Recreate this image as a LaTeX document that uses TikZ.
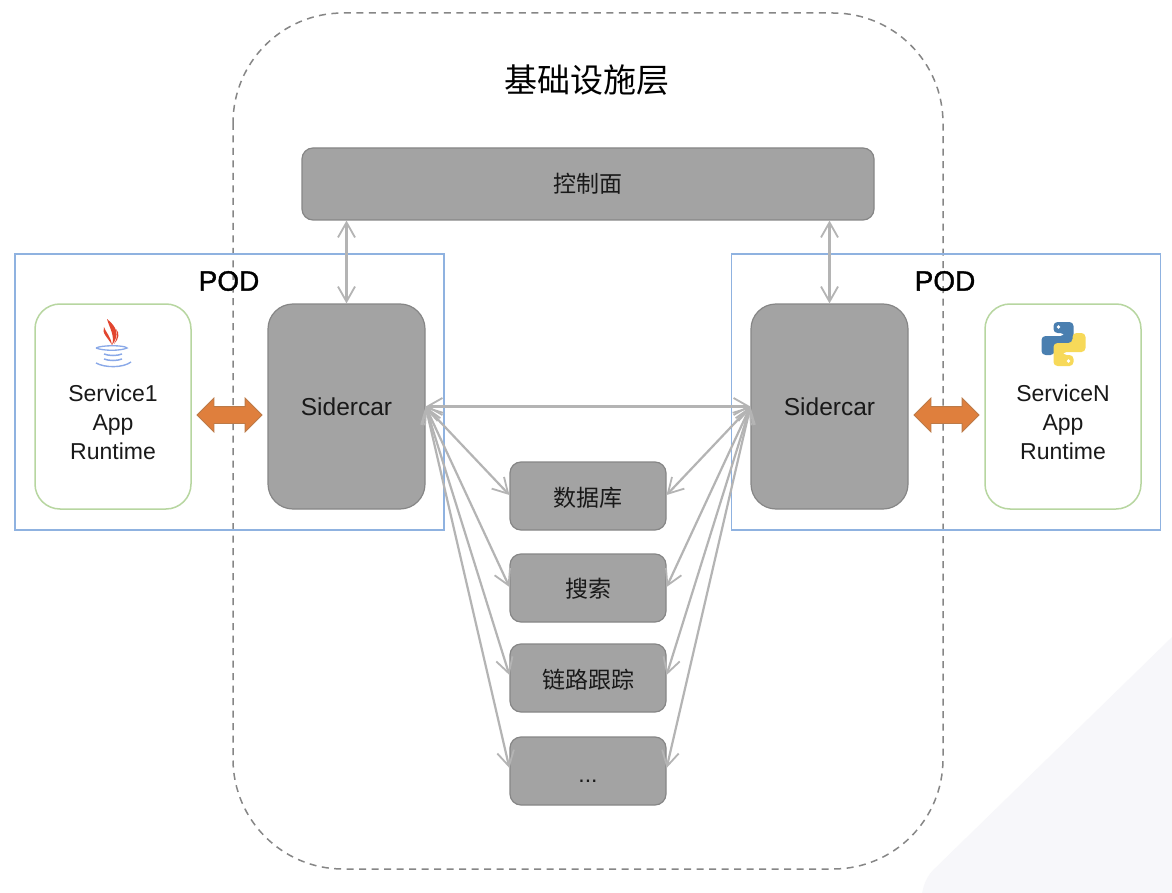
\documentclass[tikz,border=0pt]{standalone}
\usepackage{fontspec}
\setmainfont{Liberation Sans}
\newfontfamily\cjk{Noto Sans CJK SC}
\newfontfamily\podfont[FakeBold=1.2]{Liberation Sans}
\usetikzlibrary{arrows.meta,shapes.arrows}
\definecolor{boxgray}{HTML}{A3A3A3}
\definecolor{boxline}{HTML}{868686}
\definecolor{podblue}{HTML}{8FB2E0}
\definecolor{appgreen}{HTML}{B7D6A0}
\definecolor{linkgray}{HTML}{B4B4B4}
\definecolor{syncorange}{HTML}{DF7F3D}
\definecolor{syncline}{HTML}{BC7A48}
\definecolor{cornergray}{HTML}{F7F7FA}
\definecolor{javared}{HTML}{E2452F}
\definecolor{javablue}{HTML}{8AA9E8}
\definecolor{pyblue}{HTML}{4A7FB0}
\definecolor{pyyellow}{HTML}{F7D959}
\newcommand{\dropped}[2]{\raisebox{-#1}[\height][\depth]{#2}}
\tikzset{
	podbox/.style={draw=podblue, line width=1.8pt, minimum width=429pt, minimum height=276pt, inner sep=0pt},
	podtitle/.style={font=\podfont\fontsize{28}{30}\selectfont, text=black, inner sep=0pt},
	appbox/.style={draw=appgreen, fill=white, line width=1.5pt, rounded corners=25pt, minimum width=156pt, minimum height=205pt, inner sep=0pt},
	apptext/.style={font=\fontsize{23}{29}\selectfont, align=center, text=black!90, inner sep=0pt},
	carbox/.style={draw=boxline, fill=boxgray, line width=1.2pt, rounded corners=25pt, minimum width=157pt, minimum height=205pt, inner sep=0pt, font=\fontsize{24.5}{28}\selectfont, text=black!90},
	infrabox/.style={draw=boxline, fill=boxgray, line width=1.2pt, rounded corners=11pt, minimum width=156pt, minimum height=68pt, inner sep=0pt, font=\cjk\fontsize{23}{28}\selectfont, text=black!90},
	syncarrow/.style={double arrow, draw=syncline, fill=syncorange, line width=.8pt, minimum height=65pt, minimum width=33pt, double arrow head extend=8.5pt, double arrow head indent=0pt, inner xsep=0pt, inner ysep=8pt},
	linkarrow/.style={draw=linkgray, line width=2.2pt, {Straight Barb[length=15pt,width=17pt,line width=1.8pt]}-{Straight Barb[length=15pt,width=17pt,line width=1.8pt]}}
}
\begin{document}
\begin{tikzpicture}[x=1pt,y=-1pt]
	\useasboundingbox[fill=white] (0,0) rectangle (1172,893);
	% Fondo de la esquina
	\fill[rounded corners=10pt, fill=cornergray] (1190,619.5) -- (926,877) -- (918,910) -- (1190,910) -- cycle;
	
	% Capa de infraestructura
	\draw[boxline, line width=1.5pt, dash pattern=on 7pt off 5.5pt, rounded corners=110pt] (233,13) rectangle (943,869);
	\node[font=\cjk\fontsize{33}{36}\selectfont, inner sep=0pt] (title) at (587,80) {基础设施层};
	\node[infrabox, minimum width=572pt, minimum height=72pt] (ctrl) at (588,184) {控制面};
	
	% Primer pod
	\node[podbox] (podA) at (229.5,392) {};
	\node[podtitle] (podAname) at (229,281) {POD};
	\node[appbox] (appA) at (113,406.5) {};
	\node[apptext] (appAname) at (113,422) {Service1\\App\\Runtime};
	\node[carbox] (carA) at (346.5,406.5) {Sidercar};
	\node[syncarrow] (syncA) at (229.5,415) {};
	
	% Segundo pod
	\begin{scope}[xshift=716pt]
		\node[podbox] (podB) at (230,392) {};
		\node[podtitle] (podBname) at (229,281) {POD};
	\end{scope}
	\node[appbox] (appB) at (1063,406.5) {};
	\node[apptext] (appBname) at (1063,422) {ServiceN\\App\\Runtime};
	\node[carbox] (carB) at (829.5,406.5) {Sidercar};
	\node[syncarrow] (syncB) at (946.5,415) {};
	
	% Icono de Java
	\begin{scope}[shift={(113,345)}]
		\fill[javared] (-6,-26) .. controls (4,-18) and (7,-10) .. (-1,0) .. controls (2,-9) and (-3,-16) .. (-6,-26) -- cycle;
		\fill[javared] (-9,-18) .. controls (-8,-14) and (-2,-8) .. (-1,0) .. controls (-4,-6) and (-12,-12) .. (-9,-18) -- cycle;
		\fill[javared] (3,-16) .. controls (7,-12) and (6,-6) .. (1,-1) .. controls (4,-6) and (5,-11) .. (3,-16) -- cycle;
		\draw[javablue, line width=1.3pt] (-17,3) .. controls (-10,6) and (8,6) .. (14,3) .. controls (12,0) and (-12,0) .. (-17,3);
		\draw[javablue, line width=1.5pt] (-9,9) .. controls (-4,11) and (4,11) .. (9,9);
		\draw[javablue, line width=1.5pt] (-9,14) .. controls (-4,16) and (4,16) .. (9,14);
		\draw[javablue, line width=1.4pt] (-17,18) .. controls (-8,23) and (10,23) .. (18,17);
	\end{scope}
	
	% Icono de Python
	\begin{scope}[shift={(1063.5,344)}]
		\fill[rounded corners=4pt, fill=pyblue] (-10,-22) -- (10,-22) -- (10,1) -- (-9,1) -- (-9,11) -- (-22,11) -- (-22,-8) -- (1,-8) -- (1,-11) -- (-10,-11) -- cycle;
		\fill[white] (-5,-17) circle (1.8pt);
		\begin{scope}[rotate=180]
			\fill[rounded corners=4pt, fill=pyyellow] (-10,-22) -- (10,-22) -- (10,1) -- (-9,1) -- (-9,11) -- (-22,11) -- (-22,-8) -- (1,-8) -- (1,-11) -- (-10,-11) -- cycle;
			\fill[white] (-5,-17) circle (1.8pt);
		\end{scope}
	\end{scope}
	
	% Servicios de infraestructura
	\node[infrabox] (db) at (588,496) {\dropped{2pt}{数据库}};
	\node[infrabox] (search) at (588,588) {\dropped{1pt}{搜索}};
	\node[infrabox] (trace) at (588,678) {\dropped{2pt}{链路跟踪}};
	\node[infrabox, font=\fontsize{23}{28}\selectfont] (more) at (588,771) {\dropped{10pt}{...}};
	
	% Conexiones
	\draw[linkarrow] (ctrl.south -| carA) -- (carA.north);
	\draw[linkarrow] (ctrl.south -| carB) -- (carB.north);
	\draw[linkarrow] (carA.east) -- (carB.west);
	\foreach \target/\lift in {db/1,search/1,trace/3,more/3}{
		\draw[linkarrow] (carA.east) -- ([yshift=\lift pt]\target.west);
		\draw[linkarrow] (carB.west) -- ([yshift=\lift pt]\target.east);
	}
\end{tikzpicture}
\end{document}
